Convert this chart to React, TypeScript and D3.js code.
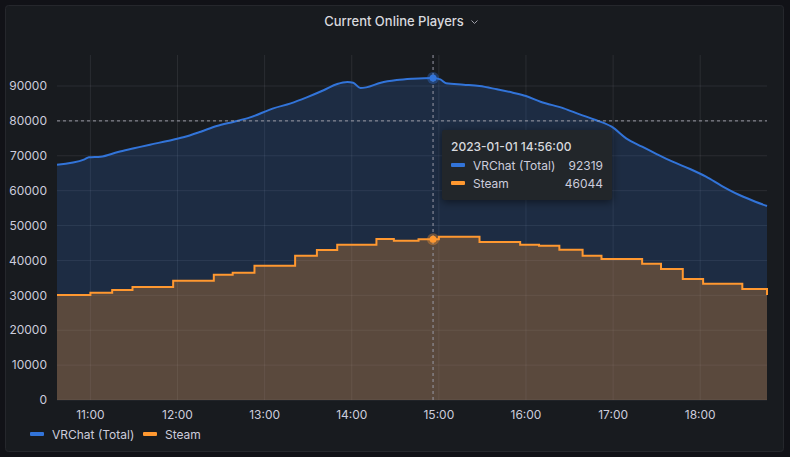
import * as d3 from 'd3';

// values
const day = '2023-01-01';

const vrTimes = [
  '10:37', '10:56', '10:59', '11:07', '11:19', '11:30', '11:41', '11:53', '12:04', '12:16',
  '12:27', '12:39', '12:50', '13:06', '13:18', '13:29', '13:41', '13:50', '13:57', '14:01',
  '14:06', '14:10', '14:20', '14:31', '14:42', '14:56', '15:01', '15:05', '15:17', '15:28',
  '15:40', '15:51', '16:00', '16:10', '16:26', '16:37', '16:48', '16:59', '17:09', '17:20',
  '17:30', '17:41', '17:53', '18:04', '18:15', '18:27', '18:38', '18:46',
];
const vrValues = [
  67440, 68980, 69550, 69740, 71080, 72130, 73180, 74230, 75290, 76900,
  78530, 79770, 81000, 83600, 85030, 86750, 88850, 90560, 91140, 90950,
  89420, 89610, 90950, 91710, 92090, 92319, 91900, 90770, 90370, 90000,
  89050, 88090, 87130, 85500, 83600, 81880, 80250, 78340, 75000, 72600,
  70500, 68300, 66200, 64000, 61330, 58750, 56830, 55600,
];

const steamTimes = [
  '10:37', '11:00', '11:15', '11:29', '11:57', '12:25', '12:38', '12:53', '13:21', '13:36',
  '13:50', '14:17', '14:29', '14:46', '15:00', '15:28', '15:56', '16:09', '16:23', '16:39',
  '16:52', '17:20', '17:33', '17:48', '18:02', '18:29', '18:46',
];
const steamValues = [
  30100, 30750, 31530, 32390, 34200, 35920, 36490, 38500, 41370, 42990,
  44520, 46140, 45660, 46044, 46800, 45280, 44520, 44230, 43080, 41370,
  40410, 39070, 37550, 34680, 33340, 31810, 30100,
];

const yTicks = [0, 10000, 20000, 30000, 40000, 50000, 60000, 70000, 80000, 90000];
const xTicks = ['11:00', '12:00', '13:00', '14:00', '15:00', '16:00', '17:00', '18:00'];

const hoverTime = '14:56';
const hoverVr = 92319;
const hoverSteam = 46044;
const cursorValue = 80000;

const seriesNames = ['VRChat (Total)', 'Steam'];
const seriesColors = ['#3274D9', '#FF9830'];

const W = 790;
const H = 457;
const font = 'Inter, "Noto Sans", sans-serif';
const textColor = '#ccccdc';

const parse = d3.timeParse('%Y-%m-%d %H:%M');
const t = (s: string) => parse(`${day} ${s}`) as Date;

export default function App() {
  const x = d3
    .scaleTime()
    .domain([t(vrTimes[0]), t(vrTimes[vrTimes.length - 1])])
    .range([57, 767]);
  const y = d3.scaleLinear().domain([0, 90000]).range([400, 86]);
  const plotTop = 55;

  const vr = vrTimes.map((s, i) => ({ t: t(s), v: vrValues[i] }));
  const steam = steamTimes.map((s, i) => ({ t: t(s), v: steamValues[i] }));

  const vrLine = d3.line<{ t: Date; v: number }>().x(d => x(d.t)).y(d => y(d.v)).curve(d3.curveMonotoneX);
  const vrArea = d3
    .area<{ t: Date; v: number }>()
    .x(d => x(d.t))
    .y0(y(0))
    .y1(d => y(d.v))
    .curve(d3.curveMonotoneX);
  const stLine = d3.line<{ t: Date; v: number }>().x(d => x(d.t)).y(d => y(d.v)).curve(d3.curveStepAfter);
  const stArea = d3
    .area<{ t: Date; v: number }>()
    .x(d => x(d.t))
    .y0(y(0))
    .y1(d => y(d.v))
    .curve(d3.curveStepAfter);

  const hx = x(t(hoverTime));
  const [x0, x1] = x.range();

  return (
    <div style={{ position: 'absolute', left: 0, top: 0 }}>
      <svg width={W} height={H} style={{ display: 'block', fontFamily: font }}>
        <defs>
          <filter id="shadow" x="-20%" y="-20%" width="140%" height="150%">
            <feDropShadow dx="0" dy="2" stdDeviation="4" floodColor="#000" floodOpacity="0.5" />
          </filter>
        </defs>
        <rect width={W} height={H} fill="#111217" />
        <rect x={5.5} y={5.5} width={778} height={446} rx={3} fill="#181b1f" stroke="#25272c" />

        <text x={394} y={26} textAnchor="middle" fontSize={13} fontWeight={500} fill="#d8d9de">
          Current Online Players
        </text>
        <path d="M471.5,20.5 L474.5,23.5 L477.5,20.5" fill="none" stroke="#9fa0aa" strokeWidth={1} />

        {/* grid */}
        {yTicks.map(v => (
          <line key={v} x1={x0} x2={x1} y1={y(v)} y2={y(v)} stroke="rgba(204,204,220,0.1)" />
        ))}
        {xTicks.map(s => (
          <line key={s} x1={x(t(s))} x2={x(t(s))} y1={plotTop} y2={y(0)} stroke="rgba(204,204,220,0.1)" />
        ))}

        {/* series */}
        <path d={vrArea(vr) ?? ''} fill={seriesColors[0]} fillOpacity={0.2} />
        <path d={stArea(steam) ?? ''} fill={seriesColors[1]} fillOpacity={0.27} />
        <path d={vrLine(vr) ?? ''} fill="none" stroke={seriesColors[0]} strokeWidth={2} />
        <path d={stLine(steam) ?? ''} fill="none" stroke={seriesColors[1]} strokeWidth={2} />

        {/* axes */}
        {yTicks.map(v => (
          <text key={v} x={47} y={y(v)} dy="0.35em" textAnchor="end" fontSize={12} fill={textColor}>
            {v}
          </text>
        ))}
        {xTicks.map(s => (
          <text key={s} x={x(t(s))} y={418.5} textAnchor="middle" fontSize={12} fill={textColor}>
            {s}
          </text>
        ))}

        {/* crosshair */}
        <line x1={hx} x2={hx} y1={plotTop} y2={y(0)} stroke="#9a9aa6" strokeDasharray="3,3" />
        <line x1={x0} x2={x1} y1={y(cursorValue)} y2={y(cursorValue)} stroke="#9a9aa6" strokeDasharray="3,3" />
        <circle cx={hx} cy={y(hoverVr)} r={6} fill={seriesColors[0]} fillOpacity={0.35} />
        <circle cx={hx} cy={y(hoverVr)} r={3.5} fill={seriesColors[0]} />
        <circle cx={hx} cy={y(hoverSteam)} r={6} fill={seriesColors[1]} fillOpacity={0.35} />
        <circle cx={hx} cy={y(hoverSteam)} r={3.5} fill={seriesColors[1]} />

        {/* tooltip */}
        <g filter="url(#shadow)">
          <rect x={442} y={130} width={170} height={70} rx={2} fill="#22252b" />
        </g>
        <text x={451} y={151} fontSize={12} fontWeight={500} fill="#d8d9de">
          {`${day} ${hoverTime}:00`}
        </text>
        {[hoverVr, hoverSteam].map((v, i) => (
          <g key={i}>
            <rect x={451} y={163 + i * 18} width={14} height={4} rx={1} fill={seriesColors[i]} />
            <text x={473} y={169.5 + i * 18} fontSize={12} fill={textColor}>
              {seriesNames[i]}
            </text>
            <text x={603} y={169.5 + i * 18} fontSize={12} textAnchor="end" fill={textColor}>
              {v}
            </text>
          </g>
        ))}

        {/* legend */}
        {seriesNames.map((n, i) => {
          const lx = i === 0 ? 30 : 143;
          return (
            <g key={n}>
              <rect x={lx} y={432} width={14} height={4} rx={1} fill={seriesColors[i]} />
              <text x={lx + 22} y={438.5} fontSize={12} fill={textColor}>
                {n}
              </text>
            </g>
          );
        })}
      </svg>
    </div>
  );
}
